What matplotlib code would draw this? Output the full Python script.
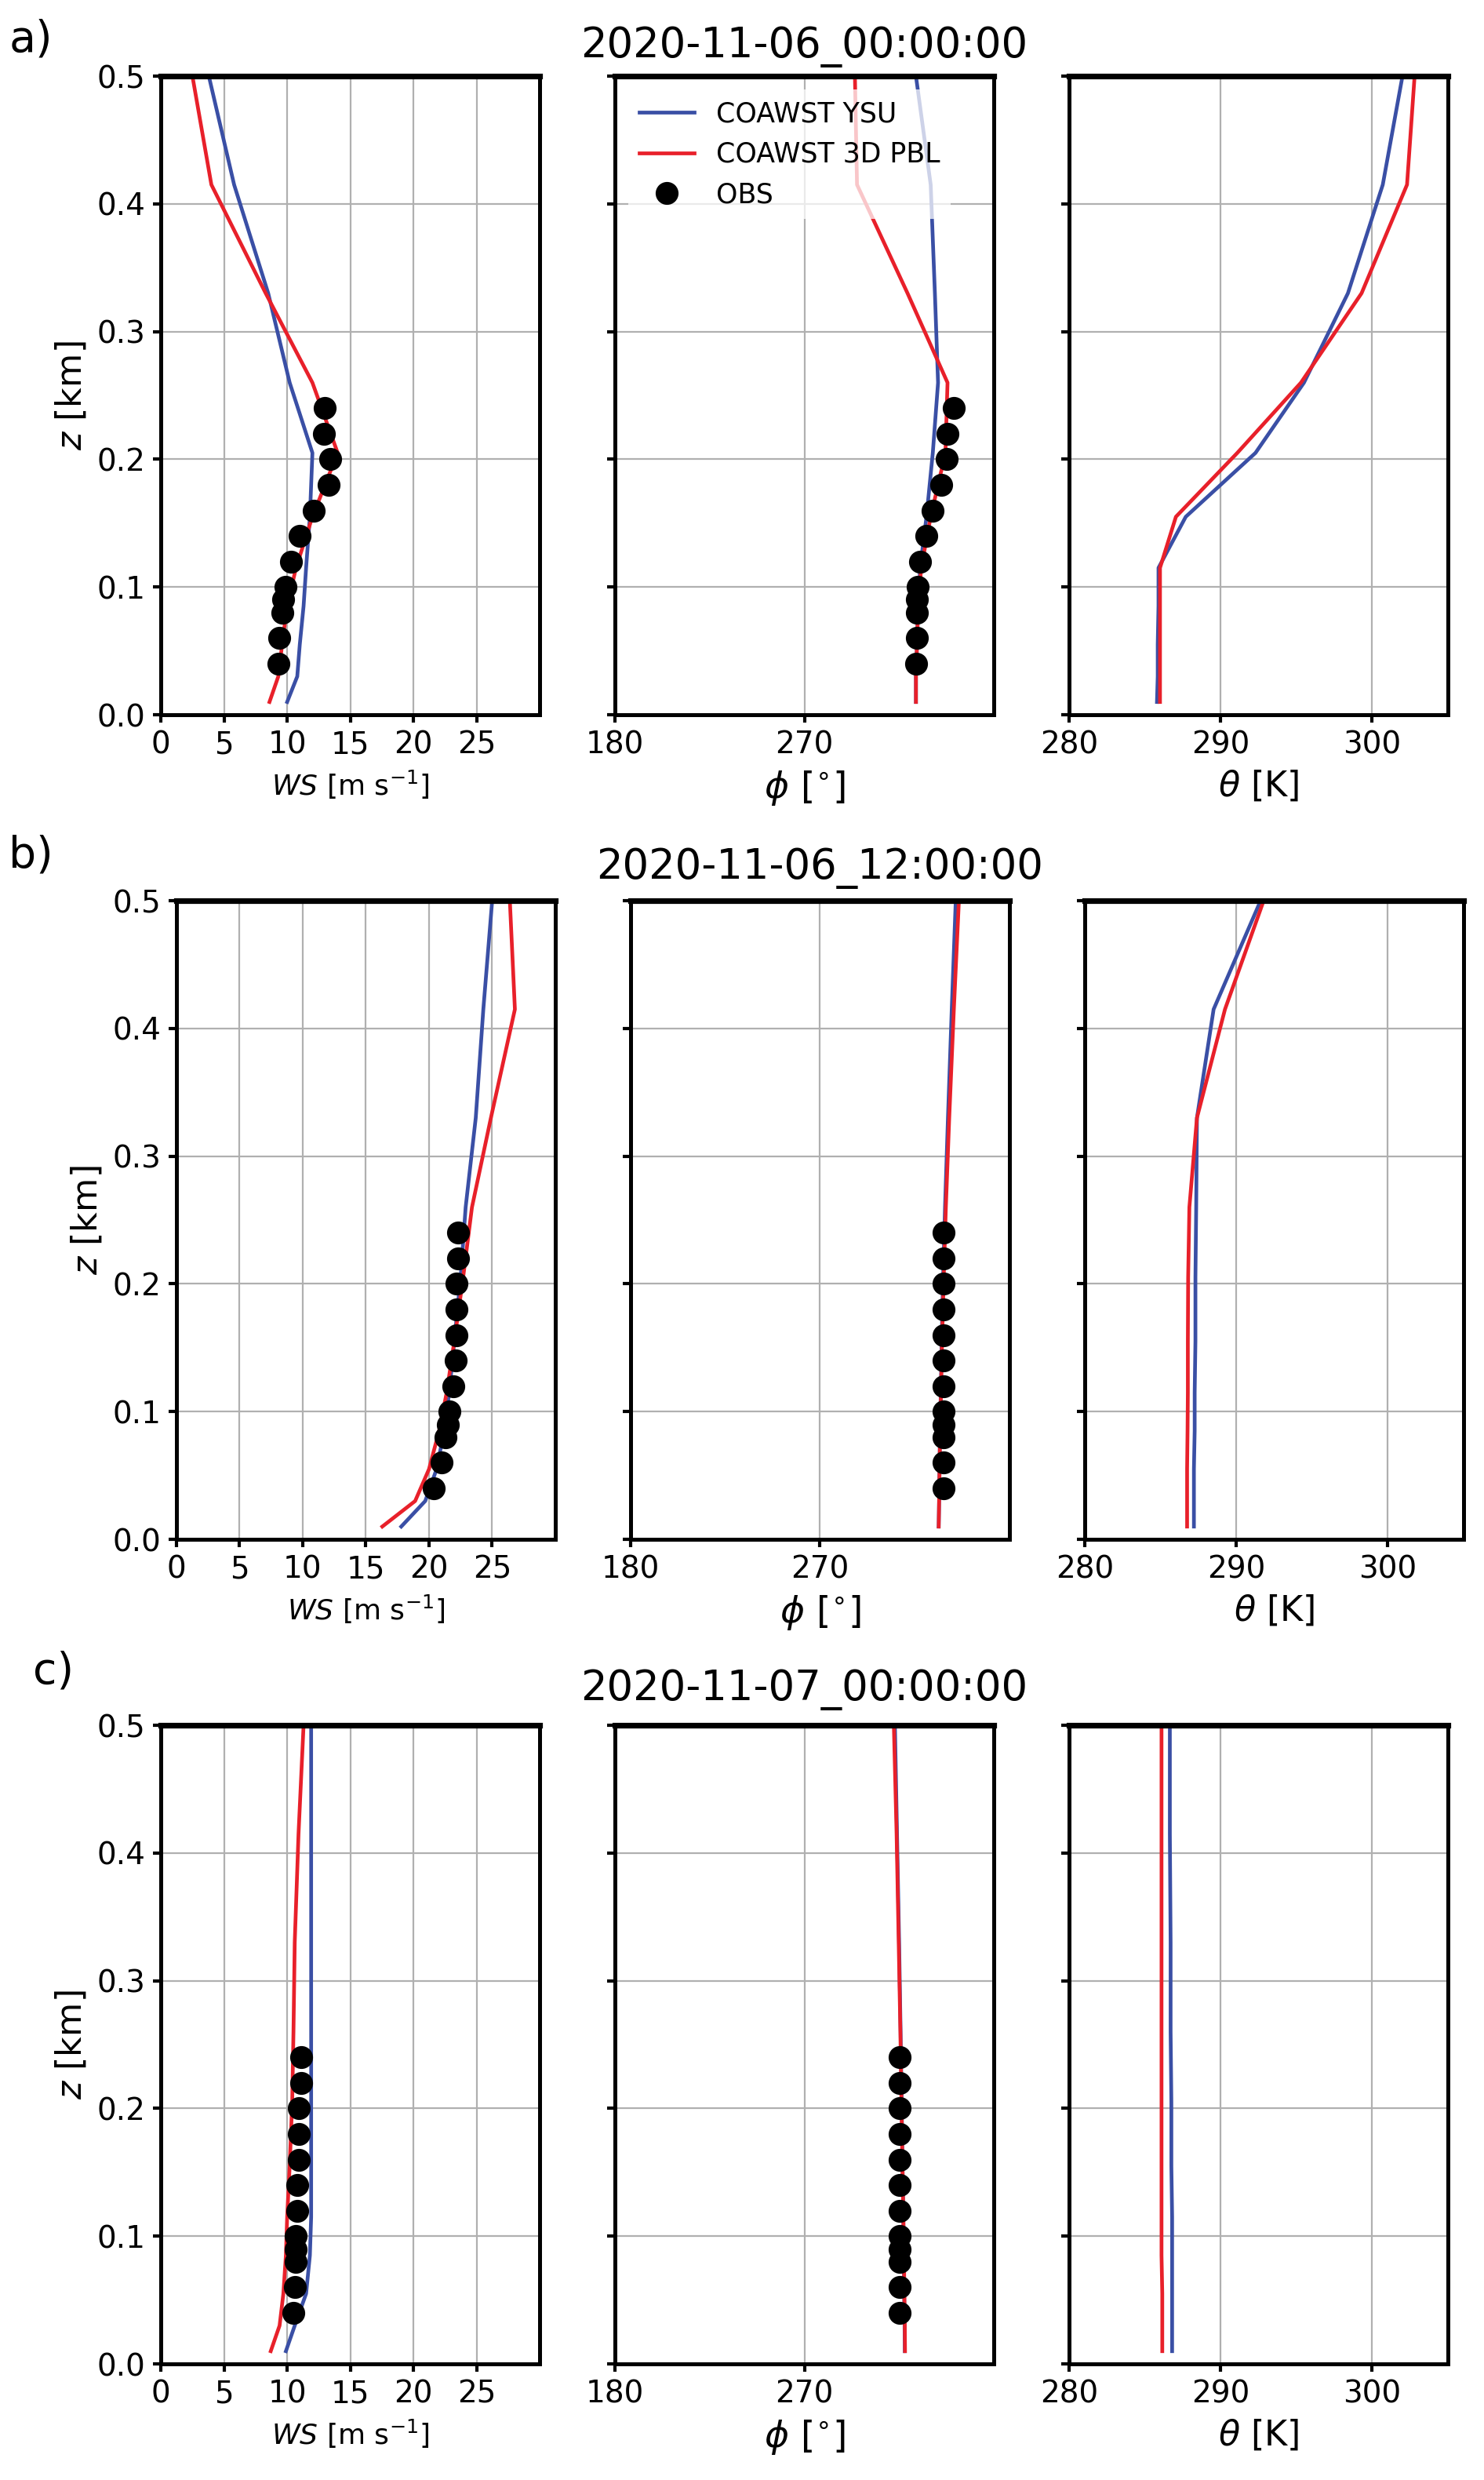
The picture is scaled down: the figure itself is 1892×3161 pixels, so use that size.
import matplotlib
matplotlib.use("Agg")
import matplotlib.pyplot as plt
import numpy as np

# model levels and obs levels (km)
z_mod = [0.01, 0.03, 0.055, 0.085, 0.115, 0.155, 0.205, 0.26, 0.33, 0.415, 0.5]
z_obs = [0.04, 0.06, 0.08, 0.09, 0.10, 0.12, 0.14, 0.16, 0.18, 0.20, 0.22, 0.24]

# a) 2020-11-06_00:00:00
ws_ysu_a = [10.0, 10.8, 11.0, 11.3, 11.5, 11.8, 12.0, 10.2, 8.5, 5.8, 3.8]
ws_3d_a = [8.6, 9.3, 9.6, 10.0, 10.7, 12.0, 14.0, 12.0, 8.3, 4.0, 2.5]
ws_obs_a = [9.3, 9.4, 9.6, 9.7, 9.9, 10.3, 11.0, 12.1, 13.3, 13.4, 12.9, 13.0]
wd_ysu_a = [323, 323, 323.5, 324, 325, 328, 331, 333.5, 332, 330, 323]
wd_3d_a = [323, 323, 323.5, 324, 325.5, 330, 337, 338, 319, 295, 294]
wd_obs_a = [323, 323.3, 323.4, 323.6, 324, 325, 328, 331, 335, 337.5, 338, 341]
th_ysu_a = [285.8, 285.85, 285.85, 285.9, 285.9, 287.7, 292.3, 295.5, 298.4, 300.7, 302.0]
th_3d_a = [286.0, 286.0, 286.0, 286.0, 286.0, 287.05, 291.1, 295.3, 299.3, 302.3, 302.8]

# b) 2020-11-06_12:00:00
ws_ysu_b = [17.8, 19.7, 20.6, 21.2, 21.6, 22.0, 22.5, 22.9, 23.7, 24.3, 25.0]
ws_3d_b = [16.3, 18.9, 20.0, 20.8, 21.4, 22.0, 22.7, 23.4, 24.9, 26.8, 26.4]
ws_obs_b = [20.4, 21.0, 21.3, 21.5, 21.6, 21.9, 22.1, 22.2, 22.2, 22.2, 22.3, 22.3]
wd_ysu_b = [326.4, 326.6, 326.8, 327.0, 327.4, 327.8, 328.5, 329.4, 330.8, 332.6, 334.5]
wd_3d_b = [326.4, 326.6, 326.8, 327.1, 327.5, 328.0, 328.8, 329.8, 331.4, 333.6, 336.0]
wd_obs_b = [328.7] * 12
th_ysu_b = [287.2, 287.2, 287.2, 287.25, 287.25, 287.3, 287.3, 287.35, 287.4, 288.5, 291.6]
th_3d_b = [286.75, 286.75, 286.75, 286.78, 286.8, 286.8, 286.82, 286.9, 287.4, 289.25, 291.8]

# c) 2020-11-07_00:00:00
ws_ysu_c = [9.9, 10.6, 11.5, 11.8, 11.9, 11.9, 11.9, 11.9, 11.9, 11.9, 11.9]
ws_3d_c = [8.7, 9.4, 9.7, 9.9, 10.0, 10.2, 10.4, 10.5, 10.6, 10.9, 11.3]
ws_obs_c = [10.5, 10.6, 10.7, 10.7, 10.7, 10.8, 10.8, 10.9, 10.9, 10.9, 11.1, 11.1]
wd_ysu_c = [317.7, 317.6, 317.4, 317.2, 317.0, 316.6, 316.2, 315.7, 315.0, 314.0, 313.0]
wd_3d_c = [317.8, 317.7, 317.5, 317.3, 317.0, 316.6, 316.1, 315.6, 314.8, 313.8, 312.5]
wd_obs_c = [315.4] * 12
th_ysu_c = [286.8, 286.8, 286.8, 286.8, 286.8, 286.75, 286.75, 286.7, 286.7, 286.65, 286.65]
th_3d_c = [286.15, 286.15, 286.15, 286.1, 286.1, 286.1, 286.1, 286.1, 286.1, 286.1, 286.1]

titles = ["2020-11-06_00:00:00", "2020-11-06_12:00:00", "2020-11-07_00:00:00"]
tags = ["a)", "b)", "c)"]

rows = [
    (ws_ysu_a, ws_3d_a, ws_obs_a, wd_ysu_a, wd_3d_a, wd_obs_a, th_ysu_a, th_3d_a),
    (ws_ysu_b, ws_3d_b, ws_obs_b, wd_ysu_b, wd_3d_b, wd_obs_b, th_ysu_b, th_3d_b),
    (ws_ysu_c, ws_3d_c, ws_obs_c, wd_ysu_c, wd_3d_c, wd_obs_c, th_ysu_c, th_3d_c),
]

BLUE = "#3a4fa5"
RED = "#e8202a"

fig = plt.figure(figsize=(9.46, 15.805), dpi=200)

row_left = [[0.1084, 0.4144, 0.7204], [0.1189, 0.4249, 0.731], [0.1084, 0.4144, 0.7204]]
row_bottom = [0.7118, 0.3793, 0.0468]
title_y = [0.981, 0.650, 0.3186]
tag_pos = [(0.006, 0.984), (0.006, 0.655), (0.022, 0.326)]
W, H = 0.2553, 0.2575

for r, data in enumerate(rows):
    ws_y, ws_3, ws_o, wd_y, wd_3, wd_o, th_y, th_3 = data
    axes = [fig.add_axes([row_left[r][k], row_bottom[r], W, H]) for k in range(3)]
    specs = [
        (ws_y, ws_3, ws_o, (0, 30), [0, 5, 10, 15, 20, 25], r"$WS$ [m s$^{-1}$]", 13),
        (wd_y, wd_3, wd_o, (180, 360), [180, 270], r"$\phi$ [$^{\circ}$]", 17),
        (th_y, th_3, None, (280, 305), [280, 290, 300], r"$\theta$ [K]", 16),
    ]
    for k, (ax, (my, m3, obs, xl, xt, lab, fs)) in enumerate(zip(axes, specs)):
        ax.plot(my, z_mod, color=BLUE, lw=1.7, label="COAWST YSU")
        ax.plot(m3, z_mod, color=RED, lw=1.7, label="COAWST 3D PBL")
        if obs is not None:
            ax.plot(obs, z_obs, "o", color="black", ms=9.5, label="OBS")
        ax.set_xlim(*xl)
        ax.set_xticks(xt)
        ax.set_ylim(0, 0.5)
        ax.set_yticks([0, 0.1, 0.2, 0.3, 0.4, 0.5])
        ax.grid(True, color="#b0b0b0", lw=0.8)
        ax.set_xlabel(lab, fontsize=fs)
        ax.tick_params(labelsize=14, width=1.5)
        for s in ax.spines.values():
            s.set_linewidth(1.8)
        ax.spines["top"].set_linewidth(2.6)
        if k == 0:
            ax.set_ylabel(r"$z$ [km]", fontsize=16)
        else:
            ax.set_yticklabels([])
        if r == 0 and k == 1:
            ax.legend(loc="upper left", fontsize=12.5, framealpha=0.75,
                      edgecolor="none", borderaxespad=0.5)
    fig.text(row_left[r][1] + W / 2, title_y[r], titles[r], ha="center",
             va="center", fontsize=19)
    fig.text(tag_pos[r][0], tag_pos[r][1], tags[r], ha="left", va="center", fontsize=20)

fig.savefig("out.png", dpi=200)
